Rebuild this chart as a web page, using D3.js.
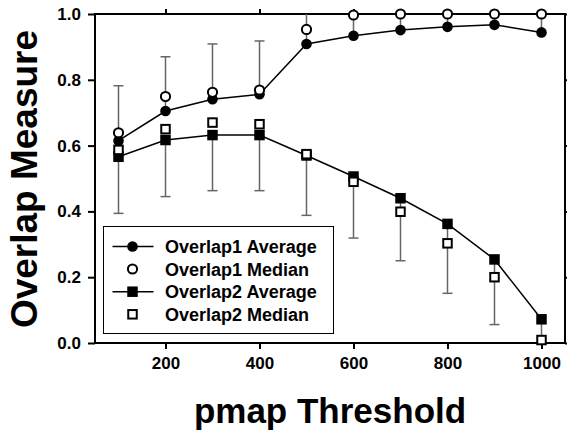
<!DOCTYPE html>
<html>
<head>
<meta charset="utf-8">
<script src="https://cdn.jsdelivr.net/npm/d3@7"></script>
<style>
  html, body { margin: 0; padding: 0; background: #fff; }
  svg { display: block; font-family: "Liberation Sans", Arial, sans-serif; font-weight: bold; }
</style>
</head>
<body>
<svg id="chart" width="567" height="434"></svg>
<script>
const thresholds = [100, 200, 300, 400, 500, 600, 700, 800, 900, 1000];
const overlap1Average = [0.615, 0.705, 0.741, 0.756, 0.909, 0.934, 0.951, 0.961, 0.967, 0.944];
const overlap1Median  = [0.639, 0.749, 0.762, 0.769, 0.953, 0.997, 1.0, 1.0, 1.0, 1.0];
const overlap1Upper   = [0.782, 0.870, 0.909, 0.918, 1.0, 1.0, 1.0, 1.0, 1.0, 1.0];
const overlap2Average = [0.566, 0.617, 0.632, 0.632, 0.570, 0.506, 0.440, 0.362, 0.254, 0.072];
const overlap2Median  = [0.587, 0.650, 0.670, 0.665, 0.574, 0.490, 0.399, 0.303, 0.200, 0.009];
const overlap2Lower   = [0.394, 0.445, 0.463, 0.463, 0.388, 0.319, 0.250, 0.151, 0.056, 0.0];
const xTicks = [200, 400, 600, 800, 1000];
const yTicks = [0.0, 0.2, 0.4, 0.6, 0.8, 1.0];
const legendLabels = ["Overlap1 Average", "Overlap1 Median", "Overlap2 Average", "Overlap2 Median"];

const svg = d3.select("#chart");
const L = 95, R = 565, T = 14, B = 343;
const x = d3.scaleLinear().domain([50, 1050]).range([L, R]);
const y = d3.scaleLinear().domain([0, 1]).range([B, T]);

// axes
const fmtY = d3.format(".1f");
const axB = svg.append("g").attr("transform", `translate(0,${B})`)
  .call(d3.axisBottom(x).tickValues(xTicks).tickFormat(d3.format("d")).tickSize(6).tickPadding(8).tickSizeOuter(0));
const axL = svg.append("g").attr("transform", `translate(${L},0)`)
  .call(d3.axisLeft(y).tickValues(yTicks).tickFormat(fmtY).tickSize(7).tickPadding(7).tickSizeOuter(0));
const axT = svg.append("g").attr("transform", `translate(0,${T})`)
  .call(d3.axisTop(x).tickValues(xTicks).tickSize(5).tickFormat("").tickSizeOuter(0));
const axR = svg.append("g").attr("transform", `translate(${R},0)`)
  .call(d3.axisRight(y).tickValues(yTicks).tickSize(6).tickFormat("").tickSizeOuter(0));
[axB, axL, axT, axR].forEach(a => {
  a.selectAll(".domain").remove();
  a.selectAll(".tick line").attr("stroke", "#000").attr("stroke-width", 2);
  a.selectAll("text").attr("fill", "#000").style("font-size", "17px").style("font-weight", "bold")
    .style("font-family", '"Liberation Sans", Arial, sans-serif');
});
svg.append("rect").attr("x", L).attr("y", T).attr("width", R - L).attr("height", B - T)
  .attr("fill", "none").attr("stroke", "#000").attr("stroke-width", 2);

// error bars
const cap = 5;
const eb = svg.append("g").attr("stroke", "#666").attr("stroke-width", 1.5).attr("fill", "none");
thresholds.forEach((t, i) => {
  const cx = x(t);
  eb.append("line").attr("x1", cx).attr("x2", cx).attr("y1", y(overlap1Average[i])).attr("y2", y(overlap1Upper[i]));
  if (overlap1Upper[i] < 1.0) eb.append("line").attr("x1", cx - cap).attr("x2", cx + cap).attr("y1", y(overlap1Upper[i])).attr("y2", y(overlap1Upper[i]));
  eb.append("line").attr("x1", cx).attr("x2", cx).attr("y1", y(overlap2Average[i])).attr("y2", y(overlap2Lower[i]));
  if (overlap2Lower[i] > 0.0) eb.append("line").attr("x1", cx - cap).attr("x2", cx + cap).attr("y1", y(overlap2Lower[i])).attr("y2", y(overlap2Lower[i]));
});

// lines
const line = d3.line().x((d, i) => x(thresholds[i])).y(d => y(d));
svg.append("path").datum(overlap2Average).attr("d", line).attr("fill", "none").attr("stroke", "#000").attr("stroke-width", 1.5);
svg.append("path").datum(overlap1Average).attr("d", line).attr("fill", "none").attr("stroke", "#000").attr("stroke-width", 1.5);

const sq = 10.5;
function squares(data, open) {
  svg.append("g").selectAll("rect").data(data).join("rect")
    .attr("x", (d, i) => x(thresholds[i]) - (open ? sq - 2 : sq) / 2)
    .attr("y", d => y(d) - (open ? sq - 2 : sq) / 2)
    .attr("width", open ? sq - 2 : sq).attr("height", open ? sq - 2 : sq)
    .attr("fill", open ? "#fff" : "#000").attr("stroke", "#000").attr("stroke-width", open ? 2 : 0);
}
function circles(data, open) {
  svg.append("g").selectAll("circle").data(data).join("circle")
    .attr("cx", (d, i) => x(thresholds[i])).attr("cy", d => y(d))
    .attr("r", open ? 4.6 : 5.3)
    .attr("fill", open ? "#fff" : "#000").attr("stroke", "#000").attr("stroke-width", open ? 2 : 0);
}
squares(overlap2Average, false);
squares(overlap2Median, true);
circles(overlap1Average, false);
circles(overlap1Median, true);

// legend
const lg = svg.append("g");
lg.append("rect").attr("x", 103.5).attr("y", 226.5).attr("width", 230).attr("height", 107)
  .attr("fill", "#fff").attr("stroke", "#000").attr("stroke-width", 1);
const rowY = [246.5, 269, 291.7, 314.3];
const symX = 132.5;
legendLabels.forEach((lab, i) => {
  const ry = rowY[i];
  if (i === 0 || i === 2) {
    lg.append("line").attr("x1", 112.5).attr("x2", 153.5).attr("y1", ry).attr("y2", ry).attr("stroke", "#000").attr("stroke-width", 1.5);
  }
  if (i < 2) {
    lg.append("circle").attr("cx", symX).attr("cy", ry).attr("r", i === 0 ? 5.3 : 4.6)
      .attr("fill", i === 0 ? "#000" : "#fff").attr("stroke", "#000").attr("stroke-width", i === 0 ? 0 : 2);
  } else {
    const s = i === 2 ? sq : sq - 2;
    lg.append("rect").attr("x", symX - s / 2).attr("y", ry - s / 2).attr("width", s).attr("height", s)
      .attr("fill", i === 2 ? "#000" : "#fff").attr("stroke", "#000").attr("stroke-width", i === 2 ? 0 : 2);
  }
  lg.append("text").attr("x", 165).attr("y", ry + 6.5).text(lab).style("font-size", "18px");
});

// axis titles
svg.append("text").attr("x", 330).attr("y", 423).attr("text-anchor", "middle").style("font-size", "35px").text("pmap Threshold");
svg.append("text").attr("transform", "translate(37,179) rotate(-90)").attr("text-anchor", "middle").style("font-size", "37px").text("Overlap Measure");
</script>
</body>
</html>
